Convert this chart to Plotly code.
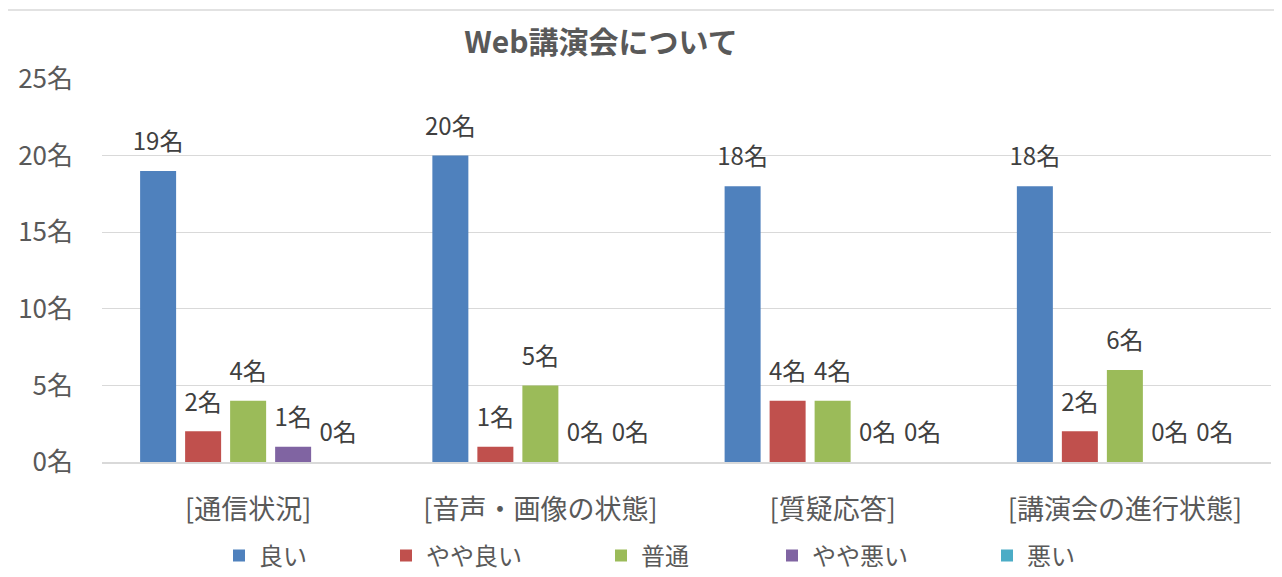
import plotly.graph_objects as go

categories = ["[通信状況]", "[音声・画像の状態]", "[質疑応答]", "[講演会の進行状態]"]
series_names = ["良い", "やや良い", "普通", "やや悪い", "悪い"]
vals_good = [19, 20, 18, 18]
vals_fairly_good = [2, 1, 4, 2]
vals_normal = [4, 5, 4, 6]
vals_fairly_bad = [1, 0, 0, 0]
vals_bad = [0, 0, 0, 0]
y_ticks = [0, 5, 10, 15, 20, 25]
y_tick_labels = [f"{v}名" for v in y_ticks]

series_values = [vals_good, vals_fairly_good, vals_normal, vals_fairly_bad, vals_bad]
colors = ["#4F81BD", "#C0504D", "#9BBB59", "#8064A2", "#4BACC6"]

FONT = "Noto Sans CJK JP, Meiryo, sans-serif"
OFF = 8  # page body margin offset
W, H = 1282 - OFF, 577 - OFF
ML, MT = 102 - OFF, 79 - OFF
MR = W - (1271 - OFF)
MB = H - (462 - OFF)
PW = W - ML - MR
PH = H - MT - MB

GAP = 0.23

fig = go.Figure()
legend_icon_centers = [239, 406, 621, 792, 1007]
for i, (name, vals, col) in enumerate(zip(series_names, series_values, colors)):
    lg = "legend" if i == 0 else f"legend{i+1}"
    fig.add_trace(go.Bar(
        x=categories, y=vals, name=name, marker_color=col,
        marker_line_width=0, offsetgroup=str(i), legend=lg,
    ))
for i, (name, vals) in enumerate(zip(series_names, series_values)):
    fig.add_trace(go.Scatter(
        x=categories, y=vals, mode="markers+text",
        text=[f"{v}名" for v in vals], textposition="top center",
        textfont=dict(family=FONT, size=24, color="#404040"),
        marker=dict(size=22, opacity=0), offsetgroup=str(i),
        showlegend=False, hoverinfo="skip", cliponaxis=False,
    ))

legends = {}
for i, cx in enumerate(legend_icon_centers):
    key = "legend" if i == 0 else f"legend{i+1}"
    legends[key] = dict(
        x=(cx - OFF - 20 - ML) / PW, xanchor="left",
        y=-(556 - 462) / PH, yanchor="middle",
        orientation="h", font=dict(family=FONT, size=24, color="#595959"),
        bgcolor="rgba(0,0,0,0)", borderwidth=0,
    )

fig.update_layout(
    width=W, height=H,
    margin=dict(l=ML, r=MR, t=MT, b=MB, autoexpand=False),
    paper_bgcolor="white", plot_bgcolor="white",
    barmode="group", bargap=GAP, bargroupgap=0.2,
    scattermode="group", scattergap=GAP,
    title=dict(text="<b>Web講演会について</b>", x=(601 - OFF) / W, xanchor="center",
               y=1 - (42 - OFF) / H, yanchor="middle",
               font=dict(family=FONT, size=30, color="#595959")),
    xaxis=dict(showgrid=False, showline=True, linecolor="#d9d9d9", linewidth=1.5,
               ticks="", ticklabelstandoff=23, automargin=False,
               tickfont=dict(family=FONT, size=27, color="#595959")),
    yaxis=dict(range=[0, 25], tickmode="array", tickvals=y_ticks, ticktext=y_tick_labels,
               showgrid=True, gridcolor="#d9d9d9", gridwidth=1, automargin=False,
               zeroline=False, showline=False, ticks="", ticklabelstandoff=28,
               tickfont=dict(family=FONT, size=26, color="#595959")),
    shapes=[dict(type="rect", xref="paper", yref="paper",
                 x0=(7 - 102) / PW, x1=(1320 - 102) / PW,
                 y0=-(640 - 462) / PH, y1=(462 - 10) / PH,
                 line=dict(color="#d9d9d9", width=1.5), fillcolor="rgba(0,0,0,0)",
                 layer="below")],
    **legends,
)

fig.write_html("out.html")
